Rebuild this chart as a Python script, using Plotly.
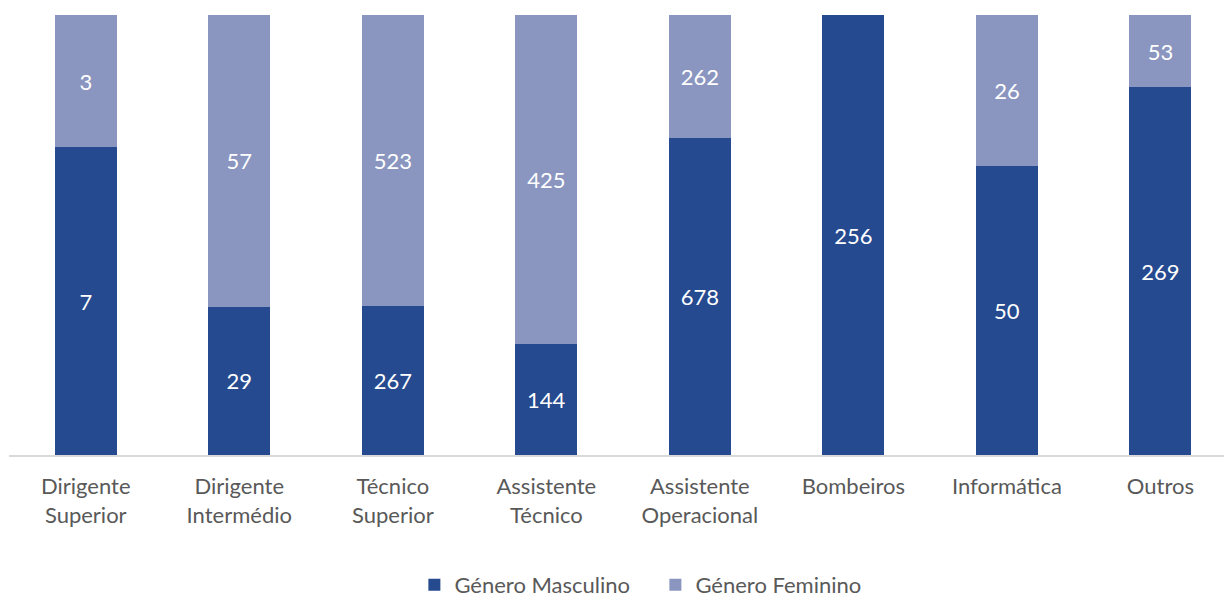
import plotly.graph_objects as go

categories = ["Dirigente<br>Superior", "Dirigente<br>Intermédio", "Técnico<br>Superior",
              "Assistente<br>Técnico", "Assistente<br>Operacional", "Bombeiros",
              "Informática", "Outros"]
masculino = [7, 29, 267, 144, 678, 256, 50, 269]
feminino = [3, 57, 523, 425, 262, 0, 26, 53]

dark = "#264A8F"
light = "#8A96BF"
font_family = "Lato, 'Open Sans', sans-serif"

def labels(vals):
    return [str(v) if v else "" for v in vals]

fig = go.Figure()
fig.add_trace(go.Bar(
    x=categories, y=masculino, name="Género Masculino",
    marker=dict(color=dark, line=dict(width=0)),
    text=labels(masculino), textposition="inside", insidetextanchor="middle",
    textangle=0, constraintext="none",
    textfont=dict(color="white", size=22, family=font_family),
    width=0.404,
))
fig.add_trace(go.Bar(
    x=categories, y=feminino, name="Género Feminino",
    marker=dict(color=light, line=dict(width=0)),
    text=labels(feminino), textposition="inside", insidetextanchor="middle",
    textangle=0, constraintext="none",
    textfont=dict(color="white", size=22, family=font_family),
    width=0.404,
))

fig.update_layout(
    width=1224, height=598,
    barmode="stack", barnorm="percent",
    margin=dict(l=9, r=0, t=15, b=143, autoexpand=False),
    paper_bgcolor="white", plot_bgcolor="white",
    font=dict(family=font_family, size=22, color="#595959"),
    showlegend=True,
    legend=dict(orientation="h", x=0.532, xanchor="center",
                y=-(585 - 455) / 440, yanchor="middle",
                font=dict(size=22, color="#595959"), traceorder="normal",
                itemwidth=30, entrywidth=196, entrywidthmode="pixels"),
)
fig.update_xaxes(
    type="category", range=[-0.5, 7.414],
    showline=True, linecolor="#D9D9D9", linewidth=2,
    showgrid=False, ticks="", ticklabelstandoff=11,
    tickfont=dict(size=22, color="#595959", family=font_family),
)
fig.update_yaxes(range=[0, 100], visible=False, showgrid=False)

fig.write_html("out.html", config={"displayModeBar": False},
               post_script="document.body.style.margin='0';")
